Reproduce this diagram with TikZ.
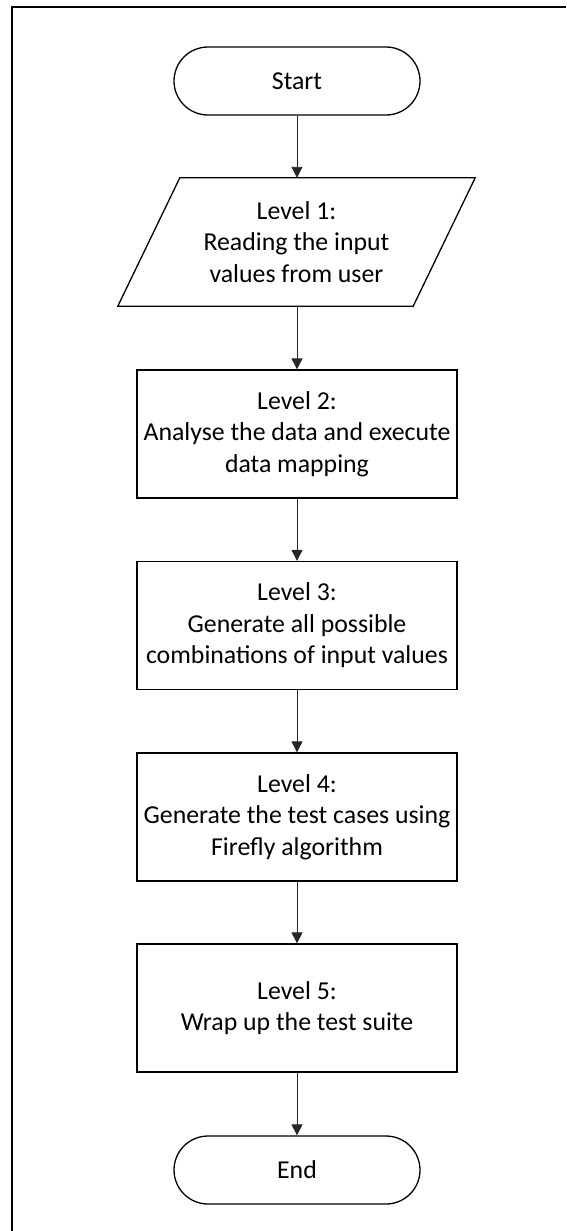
\documentclass[tikz,border=0pt]{standalone}
\usepackage{fontspec}
\setmainfont{Carlito}
\usetikzlibrary{arrows.meta}
\tikzset{
  lbl/.style={align=center, inner sep=0pt, font=\fontsize{25.8}{31.5}\selectfont},
  terminal/.style={lbl, draw, line width=1.3pt, rounded corners=34pt,
    minimum width=246pt, minimum height=68pt},
  procbox/.style={lbl, draw, line width=1.3pt, minimum width=320pt, minimum height=128pt},
  iobox/.style={lbl, minimum width=357pt, minimum height=128pt},
  flow/.style={line width=0.9pt, draw=black!85, -{Triangle[length=11pt,width=11pt]}},
  frame/.style={line width=1.8pt}
}
\begin{document}
\begin{tikzpicture}[x=1pt,y=-1pt]
\useasboundingbox (0,0) rectangle (566,1231);
% page frame, open at right and bottom
\coordinate (fa) at (12,1231);
\coordinate (fb) at (12,7);
\coordinate (fc) at (566,7);
\draw[frame] (fa) -- (fb) -- (fc);

\node[terminal] (start) at (297,81) {Start};
\node[iobox] (l1) at (296.5,242) {Level 1:\\Reading the input\\values from user};
\draw[line width=1.3pt] ([xshift=62pt]l1.north west) -- (l1.north east)
  -- ([xshift=-62pt]l1.south east) -- (l1.south west) -- cycle;
\node[procbox] (l2) at (297,434) {Level 2:\\Analyse the data and execute\\data mapping};
\node[procbox] (l3) at (297,625.5) {Level 3:\\Generate all possible\\combinations of input values};
\node[procbox] (l4) at (297,817) {Level 4:\\Generate the test cases using\\Firefly algorithm};
\node[procbox] (l5) at (297,1008) {Level 5:\\Wrap up the test suite};
\node[terminal] (end) at (297,1170) {End};

\draw[flow] (start) -- (start |- l1.north);
\draw[flow] (l1.south -| l2) -- (l2);
\draw[flow] (l2) -- (l3);
\draw[flow] (l3) -- (l4);
\draw[flow] (l4) -- (l5);
\draw[flow] (l5) -- (end);
\end{tikzpicture}
\end{document}
